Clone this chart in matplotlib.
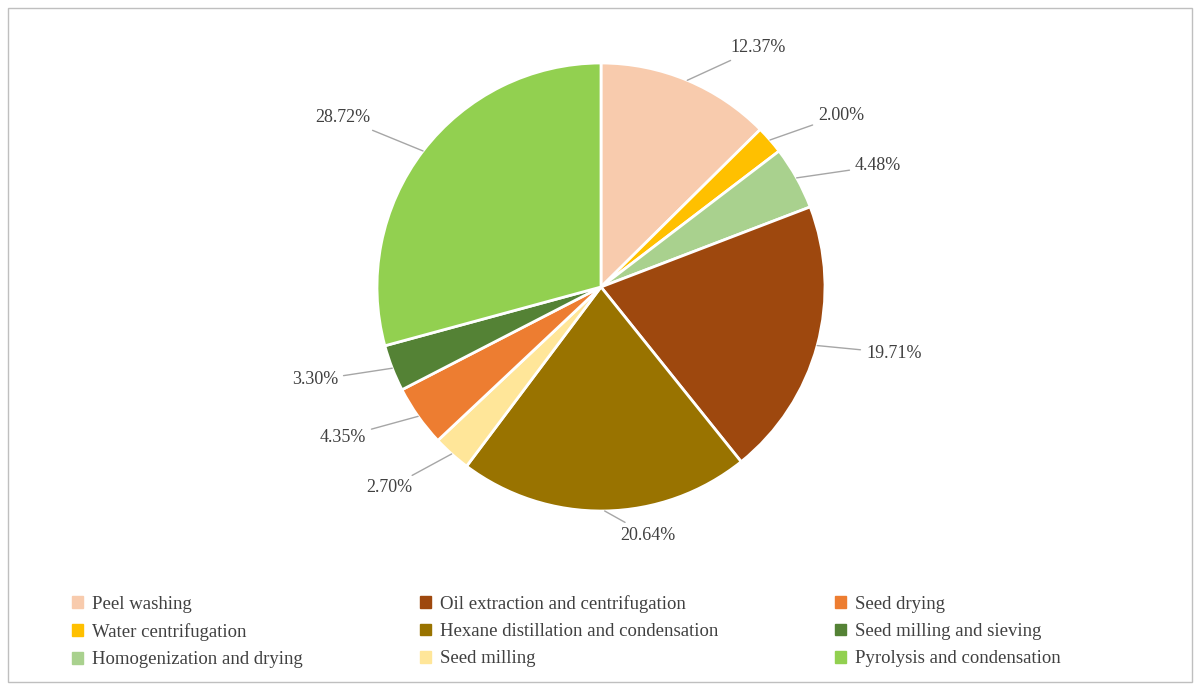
import matplotlib
matplotlib.use("Agg")
import matplotlib.pyplot as plt
import numpy as np
from matplotlib.patches import Rectangle

categories = ["Peel washing", "Water centrifugation", "Homogenization and drying",
              "Oil extraction and centrifugation", "Hexane distillation and condensation", "Seed milling",
              "Seed drying", "Seed milling and sieving", "Pyrolysis and condensation"]
values = [12.37, 2.00, 4.48, 19.71, 20.64, 2.70, 4.35, 3.30, 28.72]
colors = ["#F8CBAD", "#FFC000", "#A9D18E", "#9E480E", "#997300", "#FFE699",
          "#ED7D31", "#548235", "#92D050"]
# label text positions in pixels (figure)
label_px = [(730, 48), (818, 115), (855, 166), (866, 353), (620, 535),
            (412, 488), (366, 437), (338, 380), (370, 118)]

plt.rcParams['font.family'] = ['Liberation Serif', 'DejaVu Serif']
W, H = 1200, 690
fig = plt.figure(figsize=(12, 6.9), dpi=100)
fig.add_artist(Rectangle((8/W, 8/H), 1-16/W, 1-16/H, transform=fig.transFigure,
                         fill=False, edgecolor="#BFBFBF", lw=1))
cx, cy, R = 601, 287, 224
ax = fig.add_axes([(cx-R)/W, 1-(cy+R)/H, 2*R/W, 2*R/H])
wedges, _ = ax.pie(values, colors=colors, startangle=90, counterclock=False, radius=1,
                   wedgeprops=dict(edgecolor="white", linewidth=2))
ax.set_xlim(-1, 1); ax.set_ylim(-1, 1); ax.set_aspect('equal')
for w, v, (px, py) in zip(wedges, values, label_px):
    ang = np.deg2rad((w.theta1 + w.theta2) / 2)
    x0, y0 = np.cos(ang), np.sin(ang)
    tx, ty = (px-cx)/R, (cy-py)/R
    ha = "left" if tx > 0.05 else ("right" if tx < -0.05 else "center")
    ax.annotate(f"{v:.2f}%", xy=(x0, y0), xytext=(tx, ty), ha=ha, va="center",
                fontsize=13, color="#404040", annotation_clip=False,
                arrowprops=dict(arrowstyle="-", color="#A6A6A6", lw=1, shrinkA=2, shrinkB=0))
handles = [Rectangle((0, 0), 1, 1, color=c) for c in colors]
order = list(range(9))
fig.legend(handles, categories, ncol=3, loc="upper left", bbox_to_anchor=(55/W, 1-578/H),
           frameon=False, fontsize=13.5, handlelength=0.6, handleheight=0.6,
           columnspacing=6.2, labelspacing=0.55, handletextpad=0.5,
           labelcolor="#404040")
fig.savefig("out.png", dpi=100)
